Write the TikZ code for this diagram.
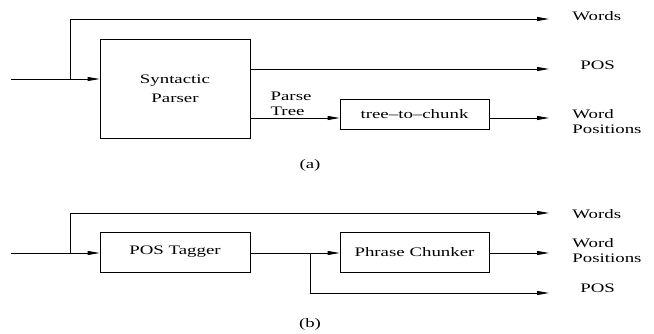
\documentclass[tikz,border=0pt]{standalone}
\usepackage{fontspec}
\newfontfamily\figfont[Ligatures=TeX, FakeStretch=1.45]{Liberation Serif}
\usepackage{tikz}
\usetikzlibrary{arrows.meta}

\begin{document}
\begin{tikzpicture}[x=1pt, y=-1pt, every node/.style={font=\figfont\fontsize{13}{15}\selectfont},
	>={Triangle[length=12pt,width=4pt]}, line width=0.8pt,
	block/.style={draw, rectangle, minimum width=150pt, inner sep=0pt},
	outlabel/.style={anchor=west, align=left, inner sep=0pt}]
	\useasboundingbox (0,0) rectangle (654,333);
	% (a)
	\coordinate (inA) at (11,79);
	\coordinate (splitA) at (70,79);
	\node[block, minimum height=99pt, align=center] (parser) at (175,88.5) {Syntactic\\[4pt]Parser};
	\node[block, minimum width=149pt, minimum height=30pt] (treechunk) at (414.5,114) {tree--to--chunk};
	\node[outlabel] (wordsA) at (572,16) {Words};
	\node[outlabel] (posA) at (580,65) {POS};
	\node[outlabel] (wposA) at (572,122) {Word\\Positions};
	\coordinate (endWordsA) at (549,19);
	\coordinate (endPosA) at (549,69);
	\coordinate (endWposA) at (549,118);
	\draw (inA) -- (splitA);
	\draw[->] (splitA) -- (parser.west |- splitA);
	\draw[->] (splitA) |- (endWordsA);
	\draw[->] (parser.east |- endPosA) -- (endPosA);
	\draw[->] (parser.east |- endWposA) -- node[above right, align=left, inner sep=2pt, pos=0.2] (parsetree) {Parse\\Tree} (treechunk.west |- endWposA);
	\draw[->] (treechunk.east |- endWposA) -- (endWposA);
	\node (capA) at (310,165) {(a)};
	% (b)
	\coordinate (inB) at (11,253);
	\coordinate (splitB) at (70,253);
	\node[block, minimum height=40pt] (tagger) at (175,252) {POS Tagger};
	\node[block, minimum width=149pt, minimum height=40pt] (chunker) at (414.5,252) {Phrase Chunker};
	\node[outlabel] (wordsB) at (572,214) {Words};
	\node[outlabel, align=left] (wposB) at (572,251) {Word\\Positions};
	\node[outlabel] (posB) at (580,288) {POS};
	\coordinate (endWordsB) at (549,213);
	\coordinate (endWposB) at (549,253);
	\coordinate (endPosB) at (549,293);
	\coordinate (splitC) at (310,253);
	\draw (inB) -- (splitB);
	\draw[->] (splitB) -- (tagger.west |- splitB);
	\draw[->] (splitB) |- (endWordsB);
	\draw[->] (tagger.east |- splitC) -- (chunker.west |- splitC);
	\draw[->] (splitC) |- (endPosB);
	\draw[->] (chunker.east |- endWposB) -- (endWposB);
	\node (capB) at (310,324) {(b)};
\end{tikzpicture}
\end{document}
